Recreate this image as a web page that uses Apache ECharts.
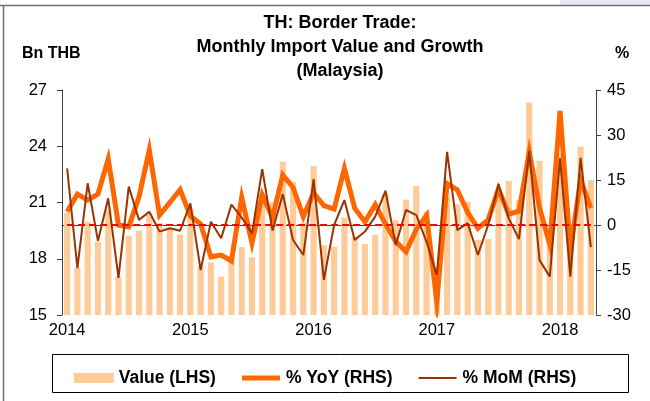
<!DOCTYPE html>
<html>
<head>
<meta charset="utf-8">
<script src="https://cdn.jsdelivr.net/npm/echarts@6/dist/echarts.min.js"></script>
<style>
html,body{margin:0;padding:0;background:#fff;}
#c{width:650px;height:401px;}
</style>
</head>
<body>
<div id="c"></div>
<script>
var categories = [
'2014-01','2014-02','2014-03','2014-04','2014-05','2014-06','2014-07','2014-08','2014-09','2014-10','2014-11','2014-12',
'2015-01','2015-02','2015-03','2015-04','2015-05','2015-06','2015-07','2015-08','2015-09','2015-10','2015-11','2015-12',
'2016-01','2016-02','2016-03','2016-04','2016-05','2016-06','2016-07','2016-08','2016-09','2016-10','2016-11','2016-12',
'2017-01','2017-02','2017-03','2017-04','2017-05','2017-06','2017-07','2017-08','2017-09','2017-10','2017-11','2017-12',
'2018-01','2018-02','2018-03','2018-04'];

var valueLHS = [
20.45,17.52,19.98,18.91,20.62,17.05,19.23,19.5,20.4,19.9,19.62,19.3,
20.69,17.6,17.8,17.05,18.15,18.62,18.08,21.45,21.02,23.18,22.1,19.9,
22.95,18.72,18.64,20.2,19.2,18.78,19.28,21.45,20.05,21.15,21.88,20.52,
17.1,21.3,20.9,21.04,19.0,19.05,21.6,22.15,21.13,26.34,23.23,19.2,
23.5,19.5,23.98,22.2];

var yoyRHS = [
4.4,10.3,8.3,10.3,22,0,-0.6,9.4,25,3.3,7.5,11.8,
3,0.3,-10.6,-10,-12,9.2,-6,10,2.5,16.7,12.5,2.8,
10.7,6.5,5.3,18.9,5.6,1.1,6.8,0.3,-5.5,-8.9,-1.5,3.2,
-25.6,13.8,11.7,4.2,-1.1,1.7,12,3.6,4.6,24.4,5.8,-6.5,
38,-8.3,15,5.6];

var momRHS = [
18.9,-14.4,13.9,-5.3,8.9,-17.6,12.8,1.7,4.4,-2.2,-1.1,-1.9,
7.2,-15,1.1,-4.4,6.8,2.5,-2.8,18.6,-1.9,10.3,-5,-10,
15.3,-18.3,0,8.3,-5,-2.2,2.8,11.4,-6.7,5,3.3,-5.6,
-16.7,24.4,-1.7,0.6,-10,0,13.6,2.2,-4.7,24.7,-11.7,-17.2,
22.2,-17.2,22.4,-7.4];

var seriesNames = ['Value (LHS)', '% YoY (RHS)', '% MoM (RHS)'];
var titleLines = ['TH: Border Trade:', 'Monthly Import Value and Growth', '(Malaysia)'];
var leftUnit = 'Bn THB';
var rightUnit = '%';

var FONT = '"Liberation Sans", Arial, sans-serif';
var axisColor = '#404040';

// legend icons: tiny corner anchors keep a 38x10 box so the stroke keeps its own thickness
var anchors = 'M0,0 L0.05,0 L0,0.05 Z M38,10 L37.95,10 L38,9.95 Z ';
var iconThick = 'path://' + anchors + 'M0,2.6 L38,2.6 L38,7.4 L0,7.4 Z';
var iconThin = 'path://' + anchors + 'M0,4 L38,4 L38,6 L0,6 Z';

var chart = echarts.init(document.getElementById('c'), null, {renderer: 'canvas'});
chart.setOption({
  animation: false,
  backgroundColor: '#ffffff',
  textStyle: {fontFamily: FONT},
  title: [
    {text: titleLines.join('\n'), left: 335, textAlign: 'center', top: 6,
     textStyle: {fontFamily: FONT, fontWeight: 'bold', fontSize: 18, lineHeight: 24, color: '#000'}},
    {text: leftUnit, left: 17, top: 41,
     textStyle: {fontFamily: FONT, fontWeight: 'bold', fontSize: 16, color: '#000'}},
    {text: rightUnit, left: 610, top: 41,
     textStyle: {fontFamily: FONT, fontWeight: 'bold', fontSize: 16, color: '#000'}}
  ],
  graphic: [
    {type: 'rect', shape: {x: 560, y: 0, width: 90, height: 5}, style: {fill: '#e9ebf2'}, silent: true},
    {type: 'line', shape: {x1: 0, y1: 5.5, x2: 650, y2: 5.5}, style: {stroke: '#707070', lineWidth: 1.5}, silent: true},
    {type: 'line', shape: {x1: 3.5, y1: 5, x2: 3.5, y2: 401}, style: {stroke: '#707070', lineWidth: 1.5}, silent: true},
    {type: 'rect', shape: {x: 52.5, y: 354.5, width: 576, height: 38}, style: {fill: 'none', stroke: '#000', lineWidth: 1}, silent: true}
  ],
  legend: {
    data: [
      {name: seriesNames[0], icon: 'rect'},
      {name: seriesNames[1], icon: iconThick},
      {name: seriesNames[2], icon: iconThin}
    ],
    left: 'center', top: 364,
    itemWidth: 40, itemHeight: 10, itemGap: 26,
    textStyle: {fontFamily: FONT, fontWeight: 'bold', fontSize: 17.5, color: '#000'}
  },
  grid: {left: 62, right: 54, top: 90, bottom: 86, containLabel: false},
  xAxis: {
    type: 'category',
    data: categories,
    boundaryGap: true,
    axisLine: {lineStyle: {color: axisColor, width: 1}},
    axisTick: {length: 5, interval: function (i) { return i % 12 === 0; }, lineStyle: {color: axisColor}},
    axisLabel: {
      interval: function (i) { return i % 12 === 0; },
      formatter: function (v) { return v.slice(0, 4); },
      fontFamily: FONT, fontSize: 16.5, color: '#000', margin: 7
    },
    splitLine: {show: false}
  },
  yAxis: [
    {type: 'value', min: 15, max: 27, interval: 3, position: 'left',
     axisLine: {show: true, lineStyle: {color: axisColor}},
     axisTick: {show: true, length: 5, lineStyle: {color: axisColor}},
     axisLabel: {fontFamily: FONT, fontSize: 16.5, color: '#000', margin: 15},
     splitLine: {show: false}},
    {type: 'value', min: -30, max: 45, interval: 15, position: 'right',
     axisLine: {show: true, lineStyle: {color: axisColor}},
     axisTick: {show: true, length: 5, lineStyle: {color: axisColor}},
     axisLabel: {fontFamily: FONT, fontSize: 16.5, color: '#000', margin: 11},
     splitLine: {show: false}}
  ],
  series: [
    {name: seriesNames[0], type: 'bar', yAxisIndex: 0, data: valueLHS,
     barWidth: '60%', itemStyle: {color: '#FFCC99'}},
    {name: seriesNames[1], type: 'line', yAxisIndex: 1, data: yoyRHS,
     symbol: 'none', lineStyle: {color: '#FF6600', width: 5, join: 'miter'}, itemStyle: {color: '#FF6600'}},
    {name: seriesNames[2], type: 'line', yAxisIndex: 1, data: momRHS,
     symbol: 'none', lineStyle: {color: '#993300', width: 2}, itemStyle: {color: '#993300'},
     markLine: {silent: true, symbol: 'none', label: {show: false},
       lineStyle: {color: '#FF0000', type: [7, 4], width: 2},
       data: [[{coord: [0, 0]}, {coord: [categories.length - 1, 0]}]]}}
  ]
});
</script>
</body>
</html>
